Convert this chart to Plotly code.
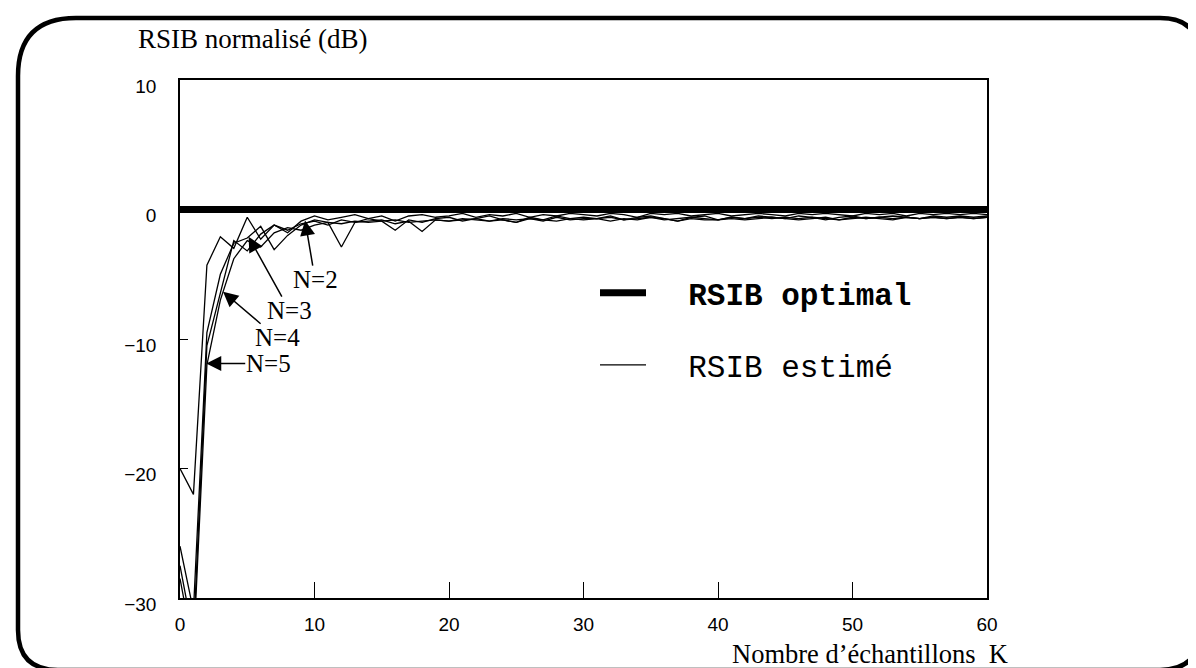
import plotly.graph_objects as go

# ---------------- data ----------------
K = list(range(0, 61))

rsib_optimal = [0.0] * 61

rsib_n2 = [-20.0, -22.0, -4.3, -2.1, -3.0, -0.6, -2.3, -1.2, -1.8, -0.9,
           -0.5, -0.8, -0.6, -0.4, -0.7, -0.5, -0.9, -0.5, -0.4, -0.6,
           -0.5, -0.3, -0.6, -0.4, -0.5, -0.3, -0.6, -0.4, -0.5, -0.3,
           -0.4, -0.5, -0.3, -0.4, -0.6, -0.3, -0.4, -0.3, -0.5, -0.4,
           -0.3, -0.5, -0.4, -0.3, -0.4, -0.5, -0.3, -0.4, -0.3, -0.4,
           -0.5, -0.3, -0.4, -0.3, -0.5, -0.3, -0.4, -0.3, -0.4, -0.3, -0.4]

rsib_n3 = [-26.0, -31.0, -9.5, -5.0, -2.6, -2.2, -1.3, -3.1, -2.0, -1.2,
           -0.8, -1.0, -2.9, -1.0, -0.7, -0.9, -1.6, -0.8, -1.0, -0.7,
           -0.6, -0.9, -0.7, -0.5, -0.8, -1.0, -0.6, -0.8, -0.5, -0.7,
           -0.6, -0.7, -0.5, -0.8, -0.6, -0.5, -0.7, -0.9, -0.6, -0.5,
           -0.8, -0.6, -0.7, -0.5, -0.6, -0.7, -0.5, -0.6, -0.8, -0.6,
           -0.5, -0.7, -0.6, -0.5, -0.6, -0.7, -0.5, -0.6, -0.5, -0.6, -0.5]

rsib_n4 = [-27.5, -33.0, -10.5, -6.4, -2.4, -3.2, -1.9, -1.2, -1.6, -1.1,
           -0.9, -1.2, -0.8, -1.0, -0.9, -0.8, -1.1, -0.9, -1.7, -0.8,
           -0.9, -0.7, -0.8, -0.9, -0.7, -0.8, -0.7, -0.9, -0.6, -0.8,
           -0.7, -0.7, -0.6, -0.8, -0.7, -0.6, -0.8, -0.7, -0.6, -0.7,
           -0.8, -0.6, -0.7, -0.6, -0.7, -0.6, -0.7, -0.6, -0.7, -0.8,
           -0.6, -0.7, -0.6, -0.7, -0.6, -0.7, -0.6, -0.7, -0.6, -0.7, -0.6]

rsib_n5 = [-28.5, -34.0, -12.0, -7.0, -3.8, -2.4, -2.9, -1.8, -1.4, -1.6,
           -1.2, -1.0, -1.1, -0.9, -1.0, -0.9, -0.8, -1.0, -0.9, -0.8,
           -0.9, -0.8, -0.7, -0.9, -0.8, -1.0, -0.7, -0.8, -0.9, -0.7,
           -0.8, -0.7, -0.9, -0.7, -0.8, -0.6, -0.7, -0.9, -0.7, -0.8,
           -0.8, -0.7, -0.8, -0.7, -0.6, -0.7, -0.8, -0.7, -0.6, -0.8,
           -0.7, -0.6, -0.7, -0.8, -0.6, -0.7, -0.6, -0.7, -0.6, -0.7, -0.6]

estimated = [("N=2", rsib_n2), ("N=3", rsib_n3), ("N=4", rsib_n4), ("N=5", rsib_n5)]

# arrow labels: (text, K at tip, value at tip, pixel offset x, pixel offset y)
labels = [("N=2", 9.3, -0.85, 10, 59),
          ("N=3", 5.1, -2.1, 41, 74),
          ("N=4", 3.2, -6.35, 54, 46),
          ("N=5", 1.95, -11.9, 62, 0)]

x_ticks = [0, 10, 20, 30, 40, 50, 60]
y_ticks = [-30, -20, -10, 0, 10]

# ---------------- figure ----------------
fig = go.Figure()

fig.add_trace(go.Scatter(
    x=K, y=rsib_optimal, mode="lines", name="\u00a0\u00a0<b>RSIB optimal</b>",
    line=dict(color="black", width=7),
    legendgroup="opt"))

first = True
for name, vals in estimated:
    fig.add_trace(go.Scatter(
        x=K, y=vals, mode="lines", name="\u00a0\u00a0RSIB estimé",
        line=dict(color="black", width=1.3),
        legendgroup="est", showlegend=first))
    first = False

W, H = 1196, 668
L, R, T, B = 172, 979, 72, 590
pw, ph = R - L, B - T


def px(xp):
    return (xp - L) / pw


def py(yp):
    return (B - yp) / ph


# rounded outer border
bl, bt, br, bb = 10, 10, 1192, 662
r1 = 58
r2 = 40
path = (
    f"M {px(bl)},{py(bt + r1)} "
    f"Q {px(bl)},{py(bt)} {px(bl + r1)},{py(bt)} "
    f"L {px(br - r2)},{py(bt)} "
    f"Q {px(br)},{py(bt)} {px(br)},{py(bt + r2)} "
    f"L {px(br)},{py(bb - r2)} "
    f"Q {px(br)},{py(bb)} {px(br - r2)},{py(bb)} "
    f"L {px(bl + r2)},{py(bb)} "
    f"Q {px(bl)},{py(bb)} {px(bl)},{py(bb - r2)} Z"
)
fig.add_shape(type="path", path=path, xref="paper", yref="paper",
              line=dict(color="black", width=4.5), layer="above")

annotations = []
for text, kx, vy, axp, ayp in labels:
    annotations.append(dict(
        x=kx, y=vy, xref="x", yref="y", text=text, showarrow=True,
        ax=axp, ay=ayp, arrowhead=2, arrowsize=2, arrowwidth=1.5,
        arrowcolor="black", borderpad=0,
        font=dict(family="Liberation Serif, Times New Roman, serif", size=25, color="black")))

annotations.append(dict(
    x=px(128), y=py(31), xref="paper", yref="paper", xanchor="left", yanchor="middle",
    text="RSIB normalisé (dB)", showarrow=False,
    font=dict(family="Liberation Serif, Times New Roman, serif", size=27, color="black")))
annotations.append(dict(
    x=px(1002), y=py(646), xref="paper", yref="paper", xanchor="right", yanchor="middle",
    text="Nombre d’échantillons\u00a0\u00a0K", showarrow=False,
    font=dict(family="Liberation Serif, Times New Roman, serif", size=26.5, color="black")))

tickfont = dict(family="Liberation Sans Narrow, Liberation Sans, Arial, sans-serif", size=19, color="black")

fig.update_layout(
    width=W, height=H,
    margin=dict(l=L, r=W - R, t=T, b=H - B),
    paper_bgcolor="white", plot_bgcolor="white",
    annotations=annotations,
    legend=dict(
        x=px(587), y=py(258), xanchor="left", yanchor="top",
        bgcolor="rgba(0,0,0,0)", borderwidth=0,
        font=dict(family="Liberation Mono, Courier New, monospace", size=31, color="black"),
        tracegroupgap=29, itemwidth=46, traceorder="grouped"),
    xaxis=dict(
        range=[0, 60], tickvals=x_ticks, ticktext=[str(v) for v in x_ticks],
        showgrid=False, zeroline=False, showline=True, mirror=True,
        linecolor="black", linewidth=1.5,
        ticks="inside", ticklen=16, tickwidth=1.3, tickcolor="black",
        tickfont=tickfont, ticklabelstandoff=8),
    yaxis=dict(
        range=[-30, 10], tickvals=y_ticks, ticktext=[str(v).replace("-", "−") for v in y_ticks],
        showgrid=False, zeroline=False, showline=True, mirror=True,
        linecolor="black", linewidth=1.5,
        ticks="inside", ticklen=8, tickwidth=1.3, tickcolor="black",
        tickfont=tickfont, ticklabelstandoff=18, ticklabelshift=6),
)

fig.write_html("out.html")
